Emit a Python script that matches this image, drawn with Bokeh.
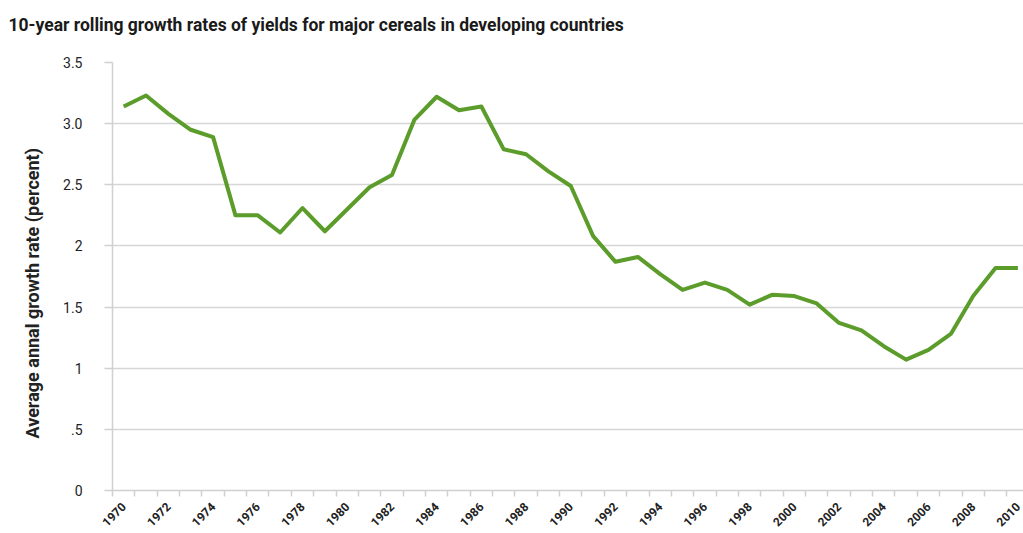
from bokeh.plotting import figure
from bokeh.models import FixedTicker, Range1d, Title
from bokeh.embed import file_html
from bokeh.resources import INLINE

years = list(range(1970, 2011))
growth = [3.14, 3.23, 3.08, 2.95, 2.89, 2.25, 2.25, 2.11, 2.31, 2.12,
          2.30, 2.48, 2.58, 3.03, 3.22, 3.11, 3.14, 2.79, 2.75, 2.61,
          2.49, 2.08, 1.87, 1.91, 1.77, 1.64, 1.70, 1.64, 1.52, 1.60,
          1.59, 1.53, 1.37, 1.31, 1.18, 1.07, 1.15, 1.28, 1.59, 1.82,
          1.82]
y_ticks = [0, 0.5, 1, 1.5, 2, 2.5, 3, 3.5]
y_tick_labels = ["0", ".5", "1", "1.5", "2", "2.5", "3.0", "3.5"]
x_label_years = years[::2]
title_text = "10-year rolling growth rates of yields for major cereals in developing countries"
ylabel_text = "Average annal  growth rate (percent)"

FONT = "Roboto"

p = figure(width=1023, height=533, output_backend="svg", toolbar_location=None,
           x_range=Range1d(1969.5, 2010.25), y_range=Range1d(0, 3.5),
           min_border_left=112, min_border_right=0, min_border_top=62,
           min_border_bottom=42)

# trailing blank line lifts the title line away from the plot frame
p.title.text = title_text + "\n "
p.title.text_font = FONT
p.title.text_font_size = "17.5px"
p.title.text_font_style = "bold"
p.title.text_color = "#1a1a1a"
p.title.offset = -104
p.title.standoff = 16
p.title.vertical_align = "bottom"

ylab = Title(text=ylabel_text, align="left",
             text_font=FONT, text_font_size="18px", text_font_style="bold",
             text_color="#222222", offset=52, standoff=36)
p.add_layout(ylab, "left")

p.line(years, growth, line_color="#5c9c2b", line_width=4, line_join="round")

p.outline_line_color = None
p.xgrid.grid_line_color = None
p.ygrid.grid_line_color = "#d6d6d6"
p.ygrid.grid_line_width = 1.5

# y axis
p.yaxis.ticker = FixedTicker(ticks=y_ticks)
p.yaxis.major_label_overrides = {t: l for t, l in zip(y_ticks, y_tick_labels)}
p.yaxis.axis_line_color = "#d0d0d0"
p.yaxis.axis_line_width = 1.5
p.yaxis.major_tick_line_color = "#d0d0d0"
p.yaxis.major_tick_line_width = 1.5
p.yaxis.major_tick_out = 8
p.yaxis.major_tick_in = 0
p.yaxis.minor_tick_line_color = None
p.yaxis.major_label_text_font = FONT
p.yaxis.major_label_text_font_size = "14px"
p.yaxis.major_label_text_color = "#222222"
p.yaxis.major_label_standoff = 22

# x axis
p.xaxis.ticker = FixedTicker(ticks=x_label_years,
                             minor_ticks=[y - 0.5 for y in years] + [years[-1] + 0.5])
p.xaxis.axis_line_color = "#d0d0d0"
p.xaxis.axis_line_width = 1.5
p.xaxis.major_tick_line_color = None
p.xaxis.major_tick_out = 0
p.xaxis.major_tick_in = 0
p.xaxis.minor_tick_line_color = "#d0d0d0"
p.xaxis.minor_tick_line_width = 1.5
p.xaxis.minor_tick_out = 6
p.xaxis.minor_tick_in = 0
p.xaxis.major_label_orientation = 0.785
p.xaxis.major_label_text_font = FONT
p.xaxis.major_label_text_font_size = "12px"
p.xaxis.major_label_text_font_style = "bold"
p.xaxis.major_label_text_color = "#222222"
p.xaxis.major_label_standoff = 8

open("out.html", "w").write(file_html(p, INLINE))
